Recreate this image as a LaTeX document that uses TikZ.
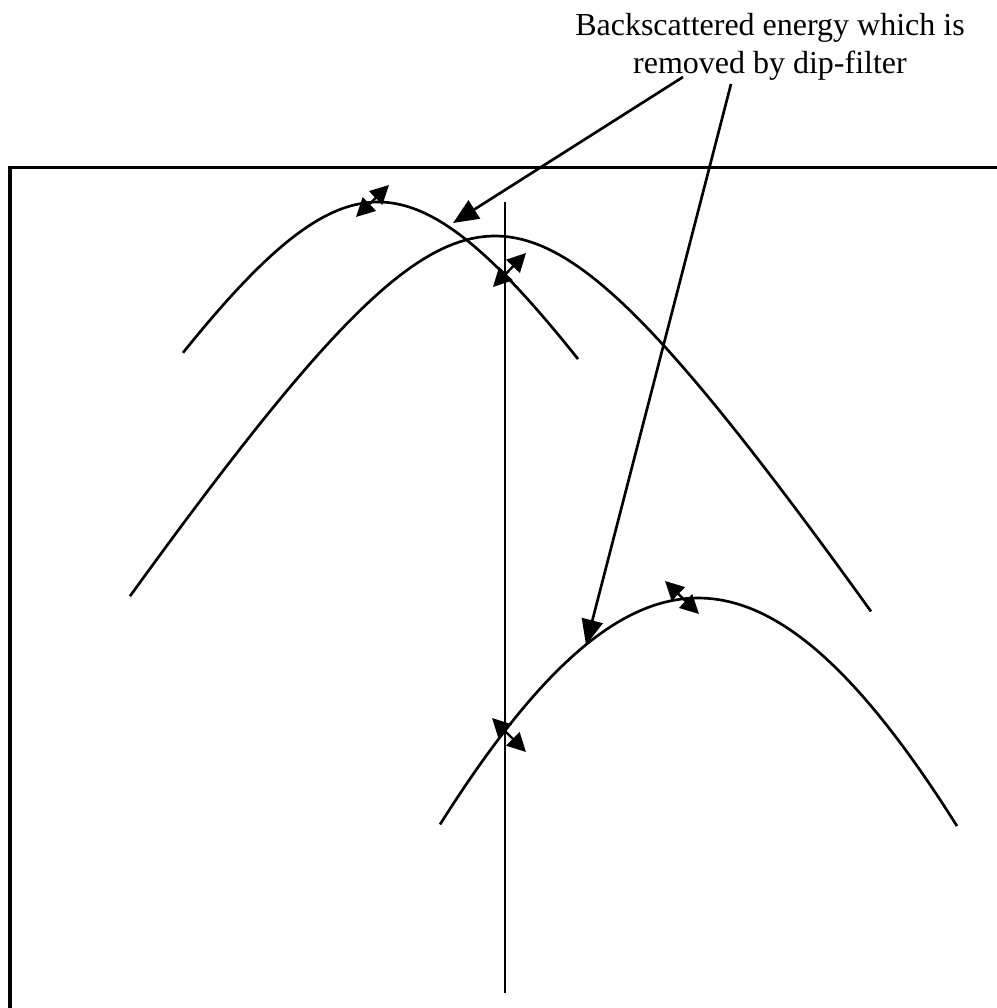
\documentclass[tikz,border=0pt]{standalone}
\usepackage{fontspec}
\setmainfont{Liberation Serif}
\usetikzlibrary{arrows.meta}

\begin{document}
\begin{tikzpicture}[
            x=0.75pt, y=-0.75pt,
            frame/.style={line width=2.8pt, line join=miter},
            trace/.style={line width=2pt},
            normal/.style={line width=1.5pt},
            pointer/.style={-{Triangle[length=19pt,width=16pt]}, line width=2pt},
            dip/.style={{Triangle[length=14pt,width=14pt]}-{Triangle[length=14pt,width=14pt]}, line width=1.8pt},
            note/.style={align=center, font=\fontsize{24}{29}\selectfont, inner sep=0pt}
        ]
            \useasboundingbox (0,0) rectangle (997,1008);

            % --- FRAME ---
            \draw[frame] (10,1008) -- (10,167.5) -- (997,167.5);

            % --- HYPERBOLAS ---
            \draw[trace] plot[domain=183:578, samples=80] (\x, {202+157*(sqrt(2.25+((\x-378)/100)^2)-1.5)});
            \draw[trace] plot[domain=130:871, samples=120] (\x, {236+151*(sqrt(2.56+((\x-495)/100)^2)-1.6)});
            \draw[trace] plot[domain=440:957, samples=100] (\x, {598+267*(sqrt(12.25+((\x-698)/100)^2)-3.5)});

            % --- NORMAL INCIDENCE TRACE ---
            \coordinate (top) at (505,202);
            \coordinate (bottom) at (505,993);
            \draw[normal] (top) -- (bottom);

            % --- DIP ARROWS ---
            \coordinate (a1) at (356,217); \coordinate (b1) at (389,185);
            \coordinate (a2) at (493,287); \coordinate (b2) at (526,253);
            \coordinate (a3) at (665,581); \coordinate (b3) at (699,614);
            \coordinate (a4) at (492,718); \coordinate (b4) at (526,752);
            \foreach \i in {1,...,4}
                \draw[dip] (a\i) -- (b\i);

            % --- LABEL ---
            \node[note] (label) at (770,47) {Backscattered energy which is\\removed by dip-filter};
            \coordinate (from1) at (683,77);
            \coordinate (from2) at (731,84);
            \coordinate (hit1) at (453,223);
            \coordinate (hit2) at (586,645);
            \draw[pointer] (from1) -- (hit1);
            \draw[pointer] (from2) -- (hit2);

        \end{tikzpicture}
\end{document}
